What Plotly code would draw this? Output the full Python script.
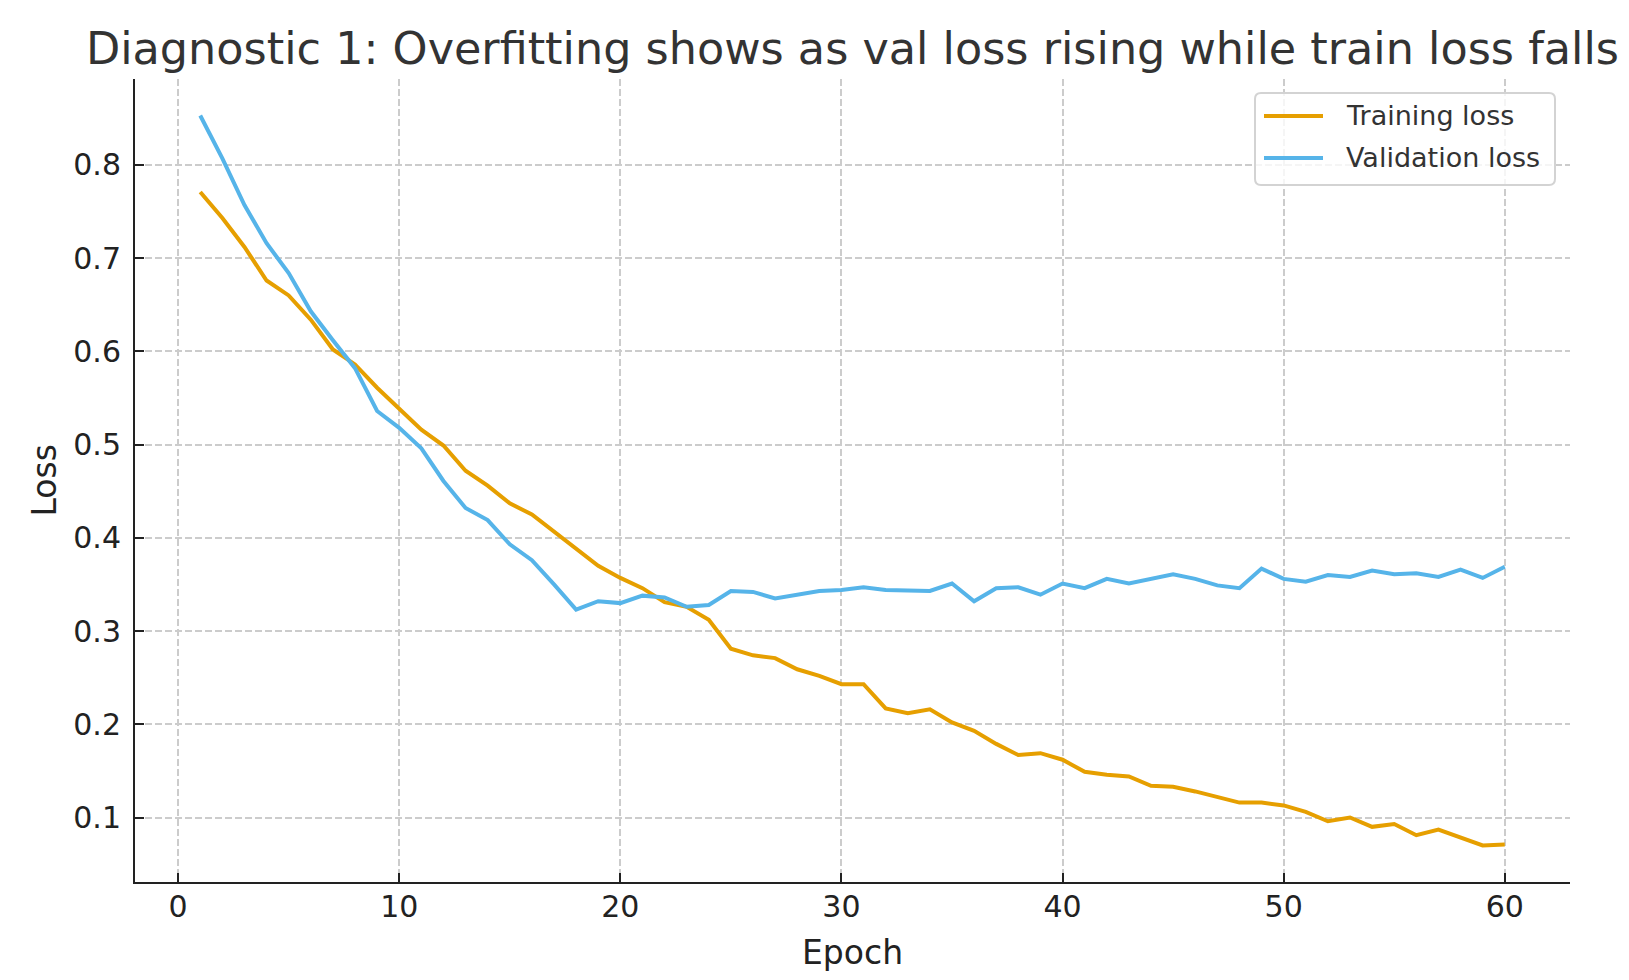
import plotly.graph_objects as go

epochs = list(range(1, 61))
train_loss = [0.771, 0.743, 0.712, 0.676, 0.660, 0.634, 0.602, 0.586, 0.561, 0.539,
              0.516, 0.499, 0.472, 0.456, 0.437, 0.425, 0.407, 0.389, 0.370, 0.357,
              0.346, 0.331, 0.326, 0.312, 0.281, 0.274, 0.271, 0.259, 0.252, 0.243,
              0.243, 0.217, 0.212, 0.216, 0.202, 0.193, 0.179, 0.167, 0.169, 0.162,
              0.149, 0.146, 0.144, 0.134, 0.133, 0.128, 0.122, 0.116, 0.116, 0.113,
              0.106, 0.096, 0.100, 0.090, 0.093, 0.081, 0.087, 0.079, 0.070, 0.071]
val_loss = [0.853, 0.807, 0.757, 0.716, 0.684, 0.643, 0.612, 0.582, 0.536, 0.518,
            0.496, 0.461, 0.432, 0.419, 0.393, 0.376, 0.350, 0.323, 0.332, 0.330,
            0.338, 0.336, 0.326, 0.328, 0.343, 0.342, 0.335, 0.339, 0.343, 0.344,
            0.347, 0.344, 0.343, 0.343, 0.351, 0.332, 0.346, 0.347, 0.339, 0.351,
            0.346, 0.356, 0.351, 0.356, 0.361, 0.356, 0.349, 0.346, 0.367, 0.356,
            0.353, 0.360, 0.358, 0.365, 0.361, 0.362, 0.358, 0.366, 0.357, 0.369]
x_ticks = [0, 10, 20, 30, 40, 50, 60]
y_ticks = [0.1, 0.2, 0.3, 0.4, 0.5, 0.6, 0.7, 0.8]
series_names = ["Training loss", "Validation loss"]
series_colors = ["#E69F00", "#56B4E9"]

TITLE = "Diagnostic 1: Overfitting shows as val loss rising while train loss falls"
FONT = "DejaVu Sans"

W, H = 1629, 980
ML, MR, MT, MB = 127, 67, 71, 106
PW, PH = W - ML - MR, H - MT - MB


def px(x):
    return (x - ML) / PW


def py(y):
    return (H - MB - y) / PH


xmin, xmax = min(epochs), max(epochs)
xpad = (xmax - xmin) * 0.05
all_y = train_loss + val_loss
ymin, ymax = min(all_y), max(all_y)
ypad = (ymax - ymin) * 0.05

fig = go.Figure()
for name, vals, col in zip(series_names, [train_loss, val_loss], series_colors):
    fig.add_trace(go.Scatter(x=epochs, y=vals, mode="lines", name=name,
                             line=dict(color=col, width=4), showlegend=False))

axis_common = dict(
    showgrid=True, gridcolor="#cccccc", gridwidth=1.5, griddash="7px,3px",
    zeroline=False, showline=True, linecolor="#222222", linewidth=2,
    ticks="inside", ticklen=9, tickwidth=2, tickcolor="#222222",
    tickfont=dict(family=FONT, size=30, color="#222222"),
    mirror=False,
)

# legend box (rounded) drawn in paper coordinates
bx0, by0, bx1, by1, r = 1247, 85, 1547, 177, 6
rx, ry = r / PW, r / PH
X0, X1, Y0, Y1 = px(bx0), px(bx1), py(by1), py(by0)
box_path = (f"M{X0 + rx},{Y1} L{X1 - rx},{Y1} Q{X1},{Y1} {X1},{Y1 - ry} "
            f"L{X1},{Y0 + ry} Q{X1},{Y0} {X1 - rx},{Y0} L{X0 + rx},{Y0} "
            f"Q{X0},{Y0} {X0},{Y0 + ry} L{X0},{Y1 - ry} Q{X0},{Y1} {X0 + rx},{Y1} Z")
shapes = [dict(type="path", path=box_path, xref="paper", yref="paper",
               fillcolor="rgba(255,255,255,0.8)", line=dict(color="#d3d3d3", width=2),
               layer="above")]
annotations = []
row_y = [108, 150]
for name, col, ry_ in zip(series_names, series_colors, row_y):
    shapes.append(dict(type="line", xref="paper", yref="paper",
                       x0=px(1256), x1=px(1315), y0=py(ry_), y1=py(ry_),
                       line=dict(color=col, width=4), layer="above"))
    annotations.append(dict(text=name, xref="paper", yref="paper", x=px(1336), y=py(ry_),
                            xanchor="left", yanchor="middle", showarrow=False,
                            font=dict(family=FONT, size=27, color="#333333")))

annotations += [
    dict(text="Epoch", xref="paper", yref="paper", x=0.5, y=-0.088,
         xanchor="center", yanchor="middle", showarrow=False,
         font=dict(family=FONT, size=33, color="#222222")),
    dict(text="Loss", xref="paper", yref="paper", x=-0.0634, y=0.5,
         xanchor="center", yanchor="middle", showarrow=False, textangle=-90,
         font=dict(family=FONT, size=33, color="#222222")),
]

fig.update_layout(
    width=W, height=H,
    margin=dict(l=ML, r=MR, t=MT, b=MB),
    paper_bgcolor="white", plot_bgcolor="white",
    font=dict(family=FONT, color="#222222"),
    title=dict(text=TITLE, x=0.5, xref="paper", xanchor="center",
               y=1 - 40 / H, yref="container", yanchor="middle",
               font=dict(family=FONT, size=44.5, color="#333333")),
    xaxis=dict(range=[xmin - xpad, xmax + xpad], tickvals=x_ticks,
               ticklabelstandoff=-3, **axis_common),
    yaxis=dict(range=[ymin - ypad, ymax + ypad], tickvals=y_ticks,
               ticklabelstandoff=6, **axis_common),
    showlegend=False,
    shapes=shapes,
    annotations=annotations,
)

fig.write_html("out.html")
